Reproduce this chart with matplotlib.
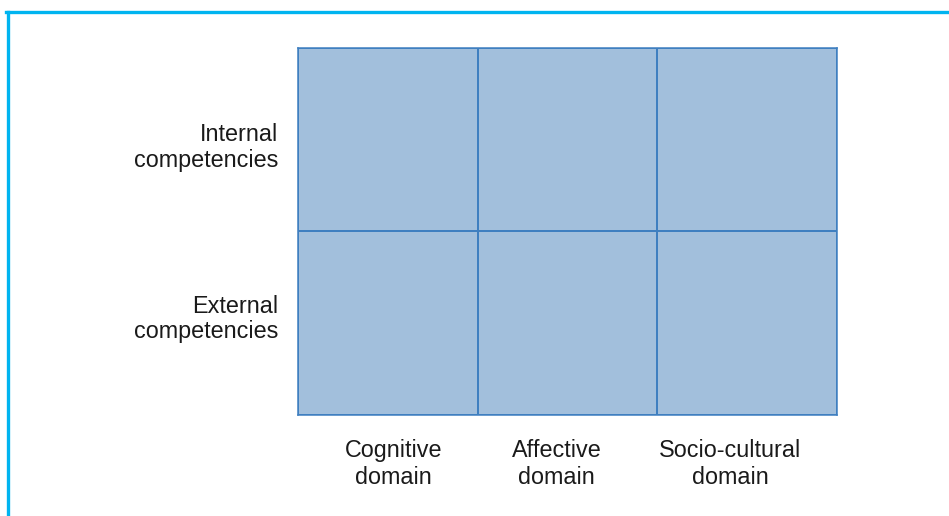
import matplotlib
matplotlib.use("Agg")
import matplotlib.pyplot as plt
from matplotlib.lines import Line2D
from matplotlib.transforms import ScaledTranslation
import numpy as np

# categorias da matriz
domains = ["Cognitive\ndomain", "Affective\ndomain", "Socio-cultural\ndomain"]
competencies = ["Internal\ncompetencies", "External\ncompetencies"]

plt.rcParams['font.family'] = ['Liberation Sans', 'DejaVu Sans']

fig = plt.figure(figsize=(9.49, 5.16), dpi=100)
ax = fig.add_axes([298 / 949, 1 - 415 / 516, 539 / 949, 367 / 516])

n_col = len(domains)
n_row = len(competencies)
cells = np.zeros((n_row, n_col))

# celulas da grade
ax.pcolormesh(np.arange(n_col + 1), np.arange(n_row + 1), cells,
              cmap=matplotlib.colors.ListedColormap(['#a2bfdc']),
              edgecolors='#3f7fc0', linewidth=1.1)
ax.set_xlim(0, n_col)
ax.set_ylim(0, n_row)

for s in ax.spines.values():
    s.set_color('#3f7fc0')
    s.set_linewidth(1.1)

ax.set_xticks(np.arange(n_col) + 0.5)
ax.set_xticklabels(domains, fontsize=16.8, color='#1a1a1a', linespacing=1.25)
# linha de cima = Internal
ax.set_yticks(np.arange(n_row)[::-1] + 0.5)
ax.set_yticklabels(competencies, fontsize=16.8, color='#1a1a1a',
                   linespacing=1.15, ha='right')
ax.tick_params(axis='x', length=0, pad=17)
ax.tick_params(axis='y', length=0, pad=14)

# pequenos ajustes horizontais dos rotulos de baixo (px)
nudges = [6, -11, -17]
for lab, dx in zip(ax.get_xticklabels(), nudges):
    lab.set_transform(lab.get_transform() +
                      ScaledTranslation(dx / 100, 0, fig.dpi_scale_trans))
# rotulos da esquerda
for lab, dy in zip(ax.get_yticklabels(), [-4, 8]):
    lab.set_transform(lab.get_transform() +
                      ScaledTranslation(0, dy / 100, fig.dpi_scale_trans))

# moldura ciano (so topo e esquerda aparecem)
fig.add_artist(Line2D([7.5 / 949, 7.5 / 949], [0, 1 - 11.5 / 516],
                      color='#00b4f0', linewidth=2.4, transform=fig.transFigure))
fig.add_artist(Line2D([6.3 / 949, 1], [1 - 11.5 / 516, 1 - 11.5 / 516],
                      color='#00b4f0', linewidth=2.4, transform=fig.transFigure))

fig.savefig("out.png", dpi=100)
